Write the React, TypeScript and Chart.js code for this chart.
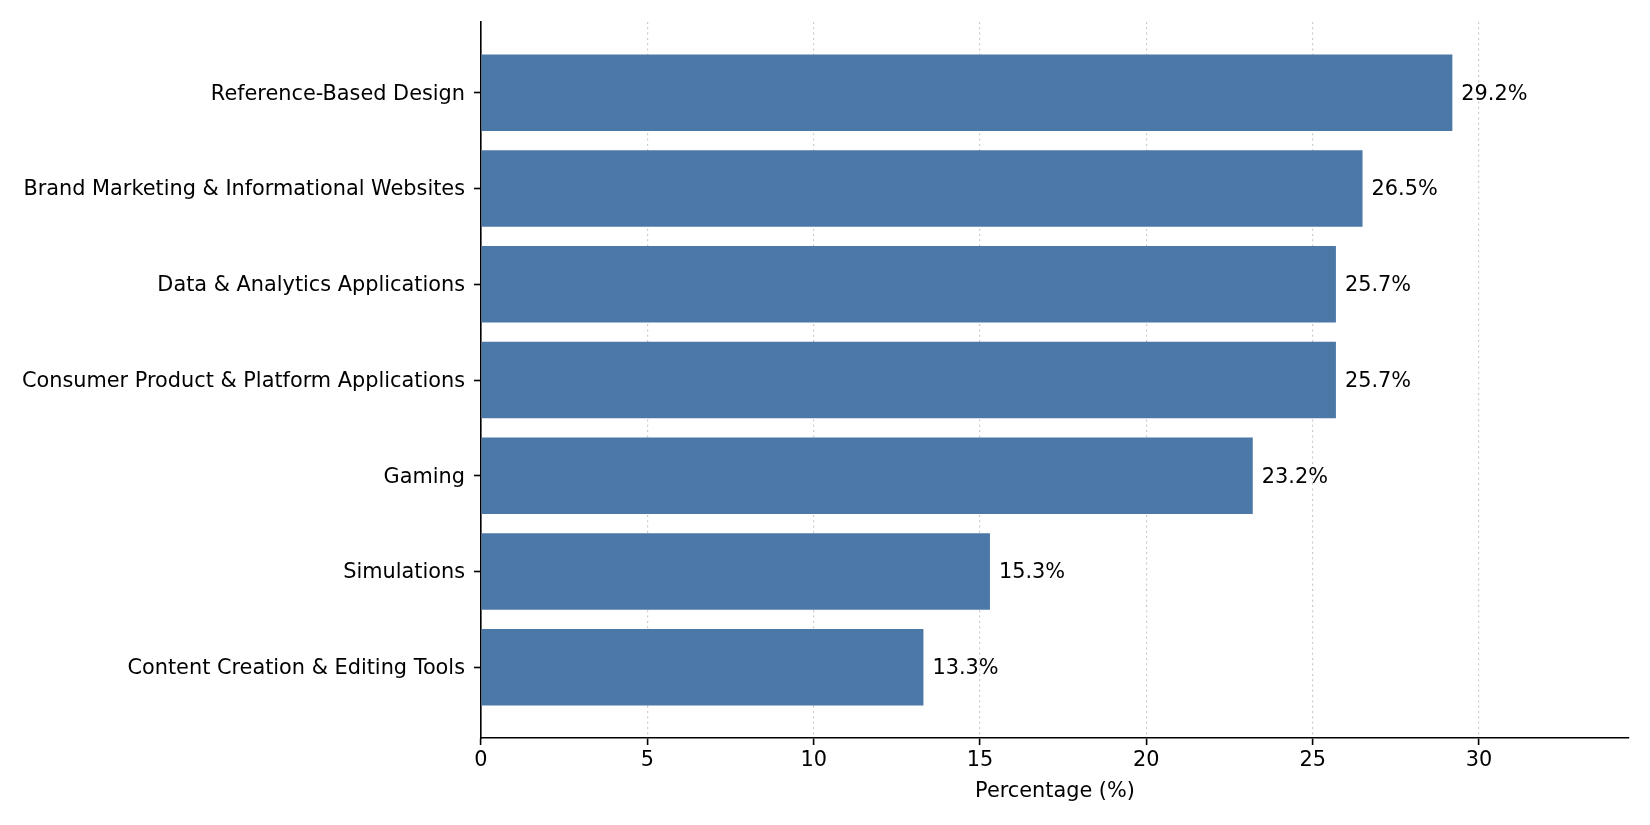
import React, { useEffect, useRef } from 'react';
import Chart from 'chart.js/auto';

const categories = [
  'Reference-Based Design',
  'Brand Marketing & Informational Websites',
  'Data & Analytics Applications',
  'Consumer Product & Platform Applications',
  'Gaming',
  'Simulations',
  'Content Creation & Editing Tools',
];

const percentages = [29.2, 26.5, 25.7, 25.7, 23.2, 15.3, 13.3];

const xTicks = [0, 5, 10, 15, 20, 25, 30];

const FONT = '"DejaVu Sans", sans-serif';
const FONT_SIZE = 20.83;
const BAR_COLOR = '#4c78a8';

export default function App() {
  const chartRef = useRef<HTMLCanvasElement>(null);
  const chartInstance = useRef<Chart | null>(null);

  useEffect(() => {
    document.body.style.margin = '0';
    document.body.style.overflow = 'hidden';
    if (!chartRef.current) return;
    if (chartInstance.current) chartInstance.current.destroy();
    const ctx = chartRef.current.getContext('2d');
    if (!ctx) return;

    // write the value next to each bar
    const valueLabels = {
      id: 'valueLabels',
      afterDatasetsDraw(chart: any) {
        const c = chart.ctx;
        const xScale = chart.scales.x;
        const meta = chart.getDatasetMeta(0);
        c.save();
        c.font = `${FONT_SIZE}px ${FONT}`;
        c.fillStyle = '#000';
        c.textAlign = 'left';
        c.textBaseline = 'middle';
        meta.data.forEach((bar: any, i: number) => {
          const v = percentages[i];
          c.fillText(v.toFixed(1) + '%', xScale.getPixelForValue(v) + 9, bar.y + 1.5);
        });
        c.restore();
      },
    };

    chartInstance.current = new Chart(ctx, {
      type: 'bar',
      data: {
        datasets: [
          {
            data: percentages.map((v, i) => ({ x: v, y: i })),
            backgroundColor: BAR_COLOR,
            borderWidth: 0,
            barPercentage: 0.8,
            categoryPercentage: 1.0,
          },
        ],
      },
      options: {
        indexAxis: 'y',
        responsive: false,
        animation: false,
        devicePixelRatio: 1,
        layout: { padding: { top: 22, right: 21, left: 0, bottom: 0 } },
        scales: {
          x: {
            type: 'linear',
            min: 0,
            max: 34.51,
            afterBuildTicks: (scale: any) => {
              scale.ticks = xTicks.map((v) => ({ value: v }));
            },
            afterFit: (scale: any) => {
              scale.height = 87;
            },
            grid: {
              color: 'rgba(170,170,170,0.6)',
              lineWidth: 1.2,
              drawTicks: true,
              tickLength: 7,
              tickColor: '#000',
              tickWidth: 1.6,
              tickBorderDash: [],
            },
            border: { display: true, color: '#000', width: 1.6, dash: [2, 3.3] },
            ticks: {
              color: '#000',
              padding: 3,
              maxRotation: 0,
              font: { family: FONT, size: FONT_SIZE },
            },
            title: {
              display: true,
              text: 'Percentage (%)',
              color: '#000',
              padding: { top: 0, bottom: 21 },
              font: { family: FONT, size: FONT_SIZE },
            },
          },
          y: {
            type: 'linear',
            reverse: true,
            offset: false,
            min: -0.74,
            max: 6.74,
            z: 1,
            afterBuildTicks: (scale: any) => {
              scale.ticks = categories.map((_, i) => ({ value: i }));
            },
            afterFit: (scale: any) => {
              scale.width = 481;
            },
            grid: {
              offset: false,
              drawOnChartArea: false,
              drawTicks: true,
              tickLength: 7,
              tickColor: '#000',
              tickWidth: 1.6,
            },
            border: { display: true, color: '#000', width: 1.6 },
            ticks: {
              color: '#000',
              padding: 9,
              labelOffset: 1.5,
              autoSkip: false,
              font: { family: FONT, size: FONT_SIZE },
              callback: (value: any) => categories[value as number] ?? '',
            },
          },
        },
        plugins: {
          legend: { display: false },
          tooltip: { enabled: false },
        },
      },
      plugins: [valueLabels],
    });

    return () => {
      if (chartInstance.current) {
        chartInstance.current.destroy();
        chartInstance.current = null;
      }
    };
  }, []);

  return (
    <div style={{ width: 1650, height: 825, background: '#fff' }}>
      <canvas ref={chartRef} width={1650} height={825} style={{ width: 1650, height: 825 }} />
    </div>
  );
}
